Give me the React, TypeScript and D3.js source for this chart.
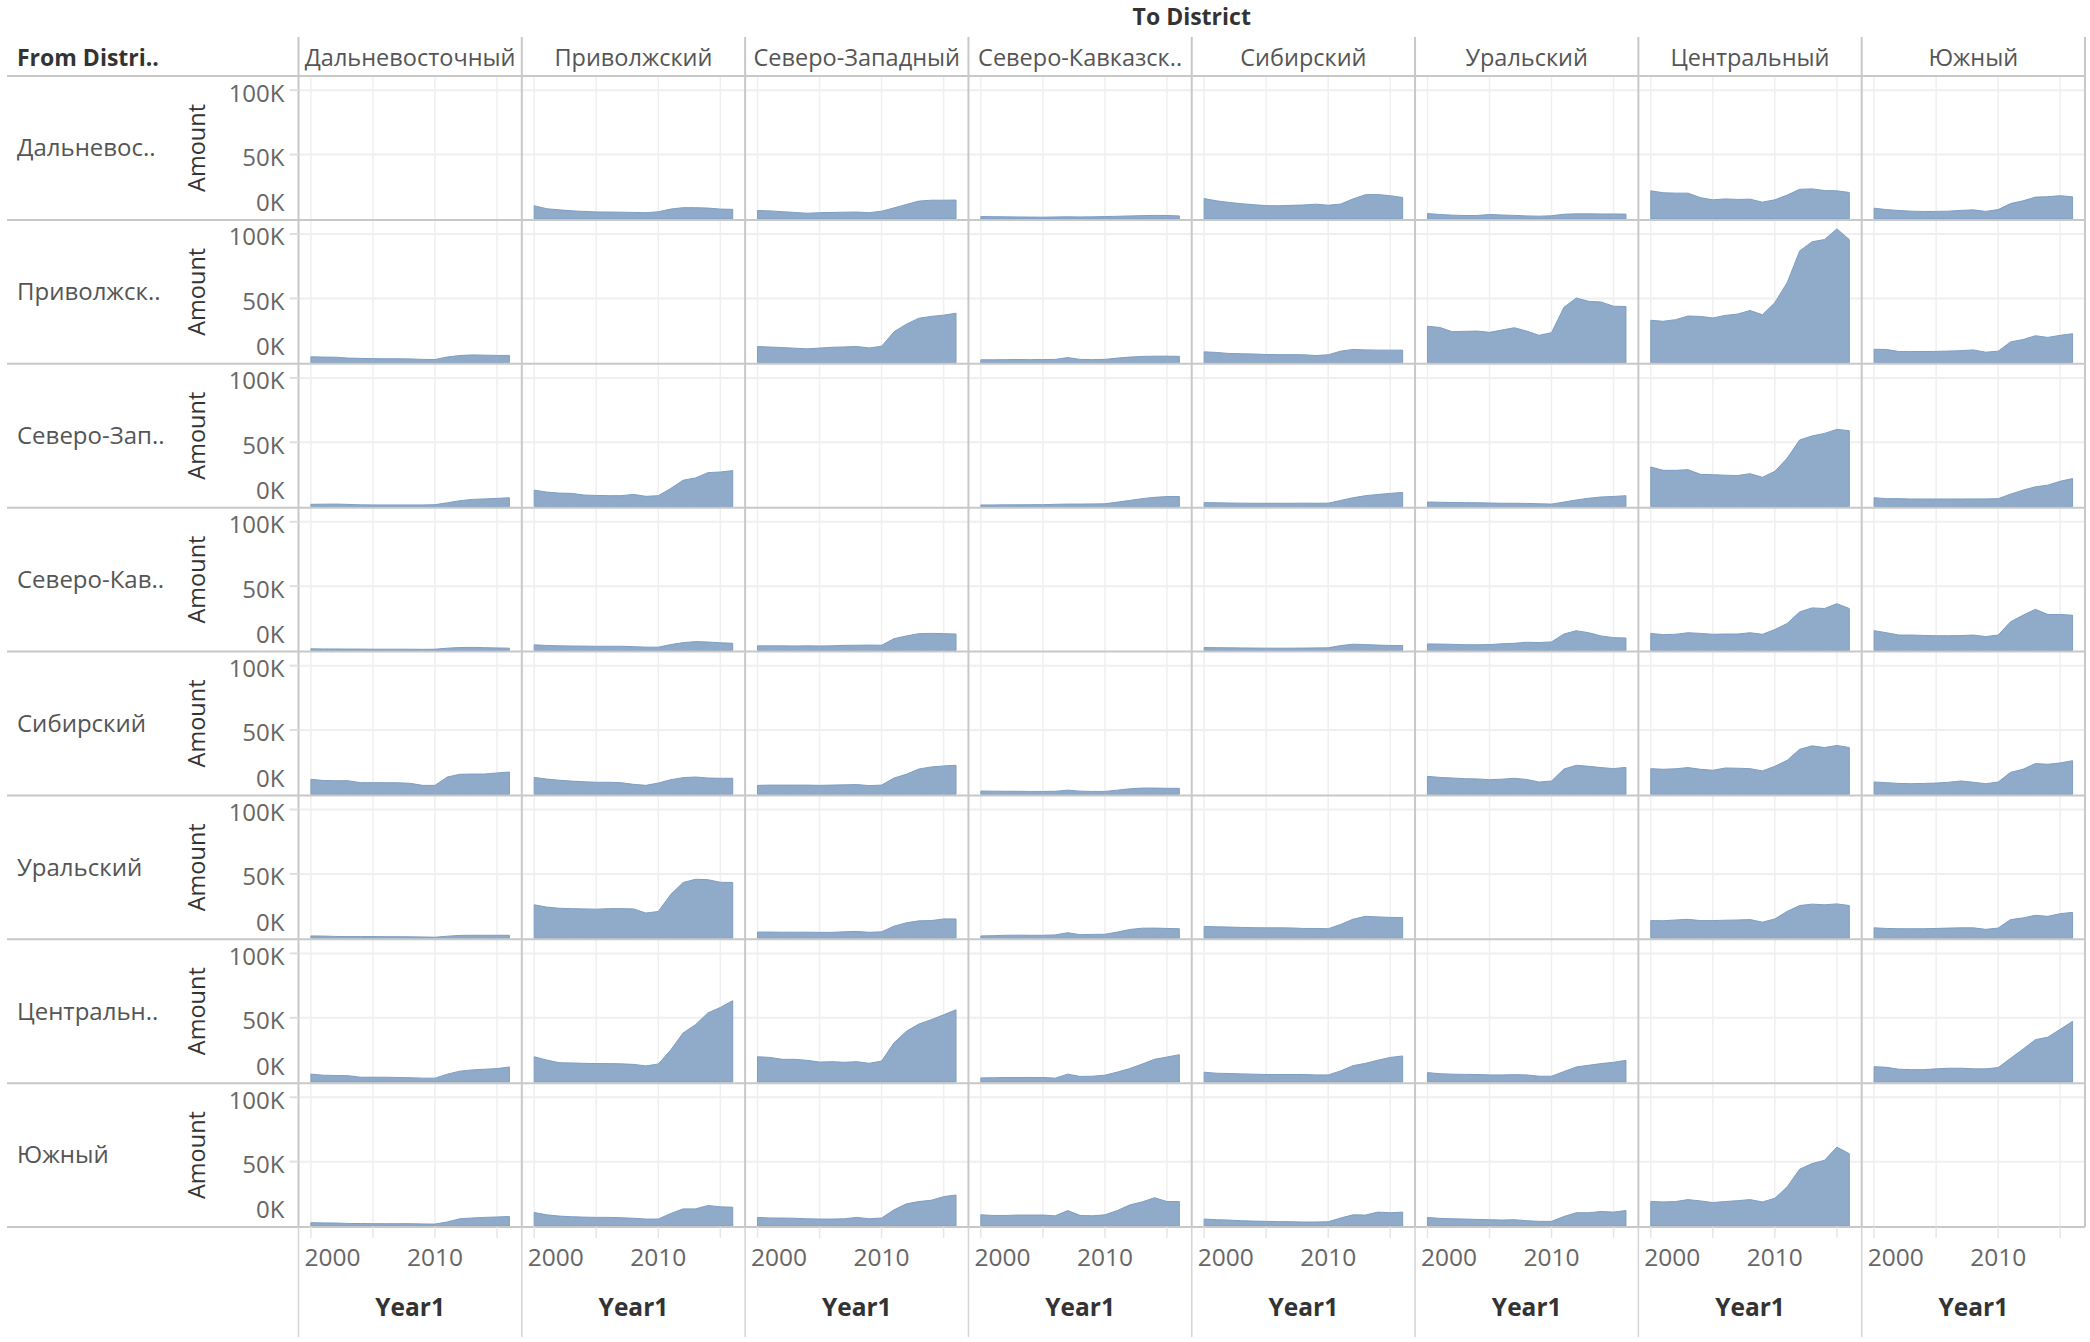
import { useEffect, useRef } from "react";
import * as d3 from "d3";

// Migration between federal districts, amount per year (in thousands).
const districts = [
  "Дальневосточный",
  "Приволжский",
  "Северо-Западный",
  "Северо-Кавказский",
  "Сибирский",
  "Уральский",
  "Центральный",
  "Южный",
];
// what the column / row headers actually show (Tableau truncates)
const colLabels = [
  "Дальневосточный",
  "Приволжский",
  "Северо-Западный",
  "Северо-Кавказск..",
  "Сибирский",
  "Уральский",
  "Центральный",
  "Южный",
];
const rowLabels = [
  "Дальневос..",
  "Приволжск..",
  "Северо-Зап..",
  "Северо-Кав..",
  "Сибирский",
  "Уральский",
  "Центральн..",
  "Южный",
];
const years = [2000, 2001, 2002, 2003, 2004, 2005, 2006, 2007, 2008, 2009, 2010, 2011, 2012, 2013, 2014, 2015, 2016];
const xTicks = [2000, 2010];
const xGrid = [2000, 2005, 2010, 2015];
const yTicks = [0, 50000, 100000];

type Row = (number[] | null)[];

// one array per "From" district, one entry per "To" district (null = same district)
const fromFarEast: Row = [
  null,
  [10.2, 7.9, 7.0, 6.3, 5.8, 5.4, 5.3, 5.2, 5.0, 4.8, 5.5, 7.6, 8.7, 8.7, 8.4, 7.6, 7.4],
  [6.5, 6.2, 5.6, 5.0, 4.4, 4.8, 5.0, 5.2, 5.3, 4.8, 6.0, 8.5, 11.2, 13.8, 14.5, 14.5, 14.6],
  [1.8, 1.7, 1.6, 1.5, 1.4, 1.3, 1.5, 1.6, 1.5, 1.6, 1.8, 2.0, 2.3, 2.5, 2.7, 2.6, 2.3],
  [15.8, 14.0, 12.8, 11.8, 11.0, 10.3, 10.2, 10.5, 10.8, 11.4, 10.6, 11.5, 15.5, 18.8, 18.9, 18.0, 16.6],
  [4.1, 3.4, 2.9, 2.6, 2.6, 3.4, 3.0, 2.7, 2.3, 2.1, 2.4, 3.6, 3.9, 3.9, 3.8, 3.8, 3.7],
  [21.8, 20.3, 20.0, 20.0, 16.5, 14.8, 15.5, 15.1, 15.3, 13.0, 14.8, 18.5, 23.0, 23.3, 22.0, 21.8, 20.5],
  [8.3, 7.2, 6.5, 6.0, 5.7, 5.8, 6.0, 6.6, 7.0, 5.8, 7.2, 11.9, 14.0, 16.9, 17.2, 18.0, 17.1],
];
const fromVolga: Row = [
  [4.6, 4.4, 4.3, 3.6, 3.4, 3.2, 3.1, 3.1, 3.0, 2.6, 2.5, 4.5, 5.6, 6.1, 5.9, 5.7, 5.7],
  null,
  [12.6, 12.2, 11.8, 11.3, 10.8, 11.4, 12.0, 12.3, 12.6, 11.5, 12.8, 24.0, 30.0, 34.6, 36.0, 37.0, 38.5],
  [2.3, 2.3, 2.4, 2.5, 2.4, 2.5, 2.6, 4.0, 2.6, 2.4, 2.6, 3.6, 4.4, 4.9, 5.1, 5.1, 5.0],
  [8.5, 8.0, 7.2, 7.0, 6.8, 6.4, 6.3, 6.3, 6.2, 5.6, 6.2, 9.0, 10.3, 10.0, 9.8, 9.8, 9.8],
  [28.4, 27.4, 24.1, 24.4, 24.6, 23.6, 25.4, 27.2, 24.6, 21.3, 23.4, 43.1, 50.3, 47.7, 47.2, 43.9, 43.7],
  [33.0, 32.2, 33.5, 36.3, 36.0, 34.8, 36.8, 37.8, 40.6, 37.3, 46.7, 62.4, 86.8, 94.0, 95.7, 104.0, 95.7],
  [10.5, 10.3, 8.7, 8.7, 8.7, 8.8, 9.1, 9.4, 10.0, 8.2, 9.0, 16.2, 18.0, 21.0, 19.7, 21.3, 22.6],
];
const fromNorthWest: Row = [
  [1.8, 1.9, 2.0, 1.7, 1.4, 1.3, 1.3, 1.3, 1.3, 1.3, 1.5, 3.0, 4.6, 5.6, 6.0, 6.4, 6.9],
  [12.8, 11.3, 10.5, 10.3, 9.0, 8.7, 8.5, 8.5, 9.5, 8.0, 8.5, 14.1, 20.5, 22.3, 26.4, 26.9, 28.0],
  null,
  [1.3, 1.3, 1.4, 1.4, 1.5, 1.5, 1.8, 2.0, 2.0, 2.1, 2.2, 3.5, 4.8, 6.2, 7.2, 7.8, 7.9],
  [3.1, 3.0, 2.8, 2.7, 2.6, 2.6, 2.6, 2.6, 2.7, 2.6, 2.7, 4.8, 6.9, 8.5, 9.4, 10.3, 11.0],
  [3.6, 3.4, 3.2, 3.1, 3.0, 2.8, 2.6, 2.6, 2.5, 2.2, 2.0, 3.5, 5.2, 6.5, 7.5, 7.9, 8.5],
  [30.8, 28.2, 28.2, 28.7, 25.1, 24.8, 24.4, 24.1, 25.6, 22.8, 27.4, 37.7, 51.8, 54.9, 56.9, 60.0, 59.0],
  [6.9, 6.2, 6.2, 5.9, 5.9, 5.9, 5.9, 5.9, 6.0, 6.0, 6.2, 9.7, 12.8, 15.4, 16.7, 19.7, 21.8],
];
const fromNorthCaucasus: Row = [
  [1.3, 1.2, 1.2, 1.1, 1.1, 1.0, 1.0, 1.0, 1.0, 0.9, 1.0, 1.8, 2.3, 2.4, 2.2, 2.0, 1.8],
  [4.4, 3.9, 3.6, 3.5, 3.4, 3.3, 3.3, 3.3, 3.0, 2.6, 2.6, 4.6, 6.1, 6.9, 6.6, 6.0, 5.6],
  [3.6, 3.6, 3.6, 3.5, 3.6, 3.5, 3.6, 4.0, 4.1, 4.2, 4.1, 9.2, 11.3, 13.1, 13.3, 13.1, 12.8],
  null,
  [2.3, 2.2, 2.1, 2.0, 1.9, 1.8, 1.8, 1.8, 1.9, 2.0, 2.1, 3.8, 4.9, 4.6, 4.2, 3.9, 3.8],
  [5.1, 5.0, 4.8, 4.5, 4.4, 4.6, 5.2, 5.6, 6.4, 6.2, 6.7, 12.8, 15.4, 13.8, 11.3, 10.0, 9.7],
  [13.3, 12.3, 12.6, 13.8, 13.3, 12.6, 12.8, 12.8, 13.8, 12.6, 16.3, 21.0, 30.0, 33.1, 32.6, 36.4, 32.6],
  [15.4, 13.8, 12.0, 12.0, 11.7, 11.5, 11.5, 11.6, 12.0, 10.8, 12.0, 22.3, 27.4, 32.0, 28.0, 28.0, 27.4],
];
const fromSiberia: Row = [
  [11.7, 10.8, 10.6, 10.6, 9.1, 9.1, 9.1, 9.0, 8.6, 7.0, 7.0, 13.5, 15.6, 15.8, 15.8, 16.6, 17.4],
  [13.2, 11.9, 11.0, 10.3, 9.8, 9.4, 9.4, 9.1, 7.8, 7.0, 8.8, 11.4, 13.0, 13.5, 12.7, 12.5, 12.5],
  [7.0, 7.2, 7.2, 7.2, 7.2, 7.0, 7.2, 7.4, 7.6, 6.8, 7.2, 12.7, 15.6, 19.7, 21.3, 22.1, 22.6],
  [2.6, 2.5, 2.4, 2.4, 2.3, 2.3, 2.4, 3.3, 2.5, 2.3, 2.3, 3.3, 4.3, 4.9, 4.9, 4.7, 4.7],
  null,
  [14.0, 13.2, 12.7, 12.2, 12.0, 11.4, 11.8, 12.5, 11.6, 9.6, 10.4, 19.7, 22.6, 21.8, 20.8, 20.0, 21.0],
  [20.0, 19.5, 19.9, 20.8, 19.5, 18.7, 20.5, 20.3, 20.0, 18.2, 21.8, 26.5, 35.0, 37.7, 36.4, 38.0, 36.4],
  [9.6, 9.1, 8.5, 8.3, 8.5, 8.8, 9.4, 10.4, 9.4, 8.3, 9.6, 17.1, 19.5, 23.9, 23.4, 24.4, 26.2],
];
const fromUrals: Row = [
  [1.8, 1.7, 1.4, 1.3, 1.3, 1.3, 1.2, 1.2, 1.1, 1.0, 0.8, 1.6, 2.2, 2.3, 2.3, 2.3, 2.3],
  [26.0, 24.2, 23.3, 23.0, 22.8, 22.6, 23.0, 23.0, 22.8, 19.6, 20.8, 34.0, 43.3, 45.8, 45.5, 43.5, 43.3],
  [4.8, 4.8, 4.7, 4.7, 4.7, 4.6, 4.6, 5.0, 5.3, 4.6, 5.0, 9.4, 12.0, 13.5, 13.7, 15.0, 15.0],
  [1.8, 2.0, 2.3, 2.4, 2.3, 2.3, 2.6, 4.3, 2.8, 3.0, 3.1, 4.8, 6.8, 7.8, 7.9, 7.6, 7.4],
  [9.2, 8.9, 8.7, 8.4, 8.2, 8.1, 8.1, 8.0, 7.6, 7.6, 7.4, 10.7, 14.8, 17.0, 16.6, 16.2, 16.0],
  null,
  [13.7, 13.6, 14.2, 14.7, 13.7, 13.7, 14.0, 14.2, 14.5, 12.5, 15.0, 20.9, 25.4, 26.5, 26.0, 26.7, 25.4],
  [8.1, 7.6, 7.4, 7.4, 7.4, 7.6, 7.9, 8.1, 8.1, 6.9, 7.9, 14.5, 15.8, 17.8, 17.0, 19.1, 20.1],
];
const fromCentral: Row = [
  [6.2, 5.4, 5.1, 5.0, 3.8, 3.8, 3.8, 3.6, 3.4, 3.1, 3.1, 6.2, 8.5, 9.5, 10.0, 10.5, 11.8],
  [19.7, 17.2, 15.1, 14.9, 14.6, 14.4, 14.4, 14.2, 13.8, 12.6, 14.1, 24.9, 38.2, 44.6, 53.8, 58.0, 63.3],
  [19.7, 19.2, 17.7, 17.7, 16.9, 15.6, 15.9, 15.4, 15.9, 14.6, 16.4, 30.5, 39.5, 45.1, 48.5, 52.3, 56.2],
  [3.3, 3.4, 3.6, 3.6, 3.6, 3.6, 3.1, 6.2, 4.4, 4.6, 5.4, 7.8, 10.5, 14.0, 17.7, 19.5, 21.3],
  [7.7, 6.9, 6.7, 6.4, 6.2, 5.9, 5.9, 5.9, 5.9, 5.6, 5.6, 8.7, 12.8, 14.6, 17.0, 19.2, 20.3],
  [7.4, 6.5, 6.2, 6.0, 5.9, 5.6, 5.6, 5.8, 5.6, 4.6, 4.6, 8.2, 11.8, 13.1, 14.4, 15.4, 16.9],
  null,
  [12.0, 11.5, 10.0, 9.7, 9.7, 10.3, 10.8, 10.8, 10.3, 10.3, 11.3, 18.5, 25.6, 33.0, 34.9, 41.0, 47.2],
];
const fromSouth: Row = [
  [2.6, 2.4, 2.3, 2.0, 1.9, 1.8, 1.8, 1.8, 1.8, 1.6, 1.5, 3.2, 5.6, 6.2, 6.7, 7.0, 7.4],
  [10.5, 8.7, 7.7, 7.2, 6.9, 6.7, 6.7, 6.4, 6.0, 5.4, 5.4, 9.7, 13.3, 13.3, 15.9, 14.9, 14.6],
  [6.7, 6.2, 6.2, 6.0, 5.6, 5.4, 5.4, 5.6, 6.7, 5.6, 6.2, 12.6, 17.2, 19.0, 20.0, 22.8, 24.1],
  [8.7, 8.2, 8.2, 8.5, 8.5, 8.5, 7.9, 12.0, 8.2, 7.9, 8.7, 12.0, 16.4, 18.7, 22.0, 19.0, 19.0],
  [5.4, 4.9, 4.6, 4.1, 3.8, 3.6, 3.4, 3.3, 3.1, 3.1, 3.3, 6.2, 8.7, 8.5, 10.8, 10.3, 10.8],
  [6.7, 5.9, 5.6, 5.4, 5.1, 4.9, 4.6, 4.9, 4.1, 3.6, 3.6, 7.4, 10.3, 10.3, 11.3, 10.8, 12.0],
  [19.0, 18.7, 19.0, 20.5, 19.5, 18.2, 19.0, 19.7, 20.5, 18.7, 21.5, 30.5, 44.1, 48.5, 51.0, 61.3, 56.2],
  null,
];

const matrix: Row[] = [
  fromFarEast,
  fromVolga,
  fromNorthWest,
  fromNorthCaucasus,
  fromSiberia,
  fromUrals,
  fromCentral,
  fromSouth,
];

const W = 2090;
const H = 1342;
const FONT = "'Open Sans', 'Noto Sans', sans-serif";

export default function App(): JSX.Element {
  const ref = useRef<SVGSVGElement | null>(null);

  useEffect(() => {
    if (!ref.current) return;
    const svg = d3.select(ref.current);
    svg.selectAll("*").remove();

    const left = 298.5;
    const right = 2085;
    const headTop = 37;
    const top = 76;
    const bottom = 1227;
    const lineLeft = 7;

    const colBand = d3.scaleBand<string>().domain(districts).range([left, right]);
    const rowBand = d3.scaleBand<string>().domain(districts).range([top, bottom]);
    const colW = colBand.bandwidth();
    const rowH = rowBand.bandwidth();

    // per-pane scales, shifted by the band offsets
    const x = d3.scaleLinear().domain([1999, 2017]).range([0, colW]);
    const y = d3.scaleLinear().domain([0, 111000]).range([rowH - 1, 0]);

    const area = d3
      .area<number>()
      .x((_d, i) => x(years[i]))
      .y0(y(0))
      .y1((d) => y(d * 1000));

    const grid = svg.append("g");
    const marks = svg.append("g");
    const rules = svg.append("g");
    const text = svg.append("g").attr("font-family", FONT);

    districts.forEach((from, r) => {
      districts.forEach((to, c) => {
        const g = grid.append("g").attr("transform", `translate(${colBand(to)},${rowBand(from)})`);
        g.selectAll("line.h")
          .data(yTicks.filter((t) => t > 0))
          .join("line")
          .attr("x1", 0)
          .attr("x2", colW)
          .attr("y1", (d) => y(d))
          .attr("y2", (d) => y(d))
          .attr("stroke", "#efefef")
          .attr("stroke-width", 2);
        g.selectAll("line.v")
          .data(xGrid)
          .join("line")
          .attr("x1", (d) => x(d))
          .attr("x2", (d) => x(d))
          .attr("y1", 0)
          .attr("y2", rowH)
          .attr("stroke", "#efefef")
          .attr("stroke-width", 1.5);

        const series = matrix[r][c];
        if (!series) return;
        marks
          .append("path")
          .attr("transform", `translate(${colBand(to)},${rowBand(from)})`)
          .attr("d", area(series))
          .attr("fill", "#8fabc9")
          .attr("stroke", "#7e9ec2")
          .attr("stroke-width", 1);
      });
    });

    // row separators + header underline
    rules
      .selectAll("line.row")
      .data([top, ...districts.map((d) => (rowBand(d) ?? 0) + rowH)])
      .join("line")
      .attr("x1", lineLeft)
      .attr("x2", right)
      .attr("y1", (d) => d)
      .attr("y2", (d) => d)
      .attr("stroke", "#c8c8c8")
      .attr("stroke-width", 2);

    // column dividers (header down through the x axis band)
    rules
      .selectAll("line.col")
      .data(districts.map((d) => colBand(d) ?? 0))
      .join("line")
      .attr("x1", (d) => d)
      .attr("x2", (d) => d)
      .attr("y1", headTop)
      .attr("y2", bottom)
      .attr("stroke", "#c8c8c8")
      .attr("stroke-width", 2);
    rules
      .append("line")
      .attr("x1", right)
      .attr("x2", right)
      .attr("y1", headTop)
      .attr("y2", bottom)
      .attr("stroke", "#c8c8c8")
      .attr("stroke-width", 2);
    rules
      .selectAll("line.axcol")
      .data(districts.map((d) => colBand(d) ?? 0))
      .join("line")
      .attr("x1", (d) => d)
      .attr("x2", (d) => d)
      .attr("y1", bottom)
      .attr("y2", H - 5)
      .attr("stroke", "#d4d4d4")
      .attr("stroke-width", 1.5);

    // x tick marks below the last row
    districts.forEach((to) => {
      rules
        .append("g")
        .attr("transform", `translate(${colBand(to)},${bottom})`)
        .selectAll("line")
        .data(xGrid)
        .join("line")
        .attr("x1", (d) => x(d))
        .attr("x2", (d) => x(d))
        .attr("y1", 0)
        .attr("y2", 11)
        .attr("stroke", "#e6e6e6")
        .attr("stroke-width", 1.5);
    });

    // title + header texts
    text
      .append("text")
      .attr("x", (left + right) / 2)
      .attr("y", 17)
      .attr("dy", "0.35em")
      .attr("text-anchor", "middle")
      .attr("font-size", 23)
      .attr("font-weight", 700)
      .attr("fill", "#333")
      .text("To District");
    text
      .append("text")
      .attr("x", 17)
      .attr("y", (headTop + top) / 2 + 1)
      .attr("dy", "0.35em")
      .attr("font-size", 23)
      .attr("font-weight", 700)
      .attr("fill", "#333")
      .text("From Distri..");

    text
      .selectAll("text.colhead")
      .data(districts)
      .join("text")
      .attr("x", (d) => (colBand(d) ?? 0) + colW / 2)
      .attr("y", (headTop + top) / 2 + 1)
      .attr("dy", "0.35em")
      .attr("text-anchor", "middle")
      .attr("font-size", 23.5)
      .attr("fill", "#555")
      .text((_d, i) => colLabels[i]);

    districts.forEach((from, r) => {
      const ry = rowBand(from) ?? 0;
      text
        .append("text")
        .attr("x", 17)
        .attr("y", ry + rowH / 2)
        .attr("dy", "0.35em")
        .attr("font-size", 24)
        .attr("fill", "#555")
        .text(rowLabels[r]);
      text
        .append("text")
        .attr("transform", `translate(197,${ry + rowH / 2}) rotate(-90)`)
        .attr("dy", "0.35em")
        .attr("text-anchor", "middle")
        .attr("font-size", 23.5)
        .attr("fill", "#333")
        .text("Amount");

      const ax = text.append("g").attr("transform", `translate(${left},${ry})`);
      ax.selectAll("line")
        .data(yTicks.filter((t) => t > 0))
        .join("line")
        .attr("x1", -9)
        .attr("x2", 0)
        .attr("y1", (d) => y(d))
        .attr("y2", (d) => y(d))
        .attr("stroke", "#e0e0e0")
        .attr("stroke-width", 2);
      ax.selectAll("text")
        .data(yTicks)
        .join("text")
        .attr("x", -14)
        .attr("y", (d) => Math.min(y(d) + 3, rowH - 17))
        .attr("dy", "0.35em")
        .attr("text-anchor", "end")
        .attr("font-size", 24)
        .attr("fill", "#666")
        .text((d) => `${d / 1000}K`);
    });

    districts.forEach((to) => {
      const cx = colBand(to) ?? 0;
      text
        .append("g")
        .selectAll("text")
        .data(xTicks)
        .join("text")
        .attr("x", (d) => Math.max(cx + x(d), cx + 34))
        .attr("y", 1257)
        .attr("dy", "0.35em")
        .attr("text-anchor", "middle")
        .attr("font-size", 24.5)
        .attr("fill", "#666")
        .text((d) => String(d));
      text
        .append("text")
        .attr("x", cx + colW / 2)
        .attr("y", 1307)
        .attr("dy", "0.35em")
        .attr("text-anchor", "middle")
        .attr("font-size", 24.5)
        .attr("font-weight", 700)
        .attr("fill", "#333")
        .text("Year1");
    });
  }, []);

  return (
    <svg
      ref={ref}
      width={W}
      height={H}
      viewBox={`0 0 ${W} ${H}`}
      style={{ position: "absolute", left: 0, top: 0, background: "#fff" }}
    />
  );
}
